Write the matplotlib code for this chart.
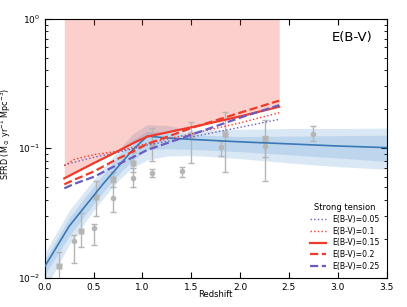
import numpy as np
import matplotlib
matplotlib.use("Agg")
from matplotlib import pyplot as plt

# model (blue) curve and its confidence bands
z_mod = [0.0, 0.25, 0.5, 0.6, 0.75, 0.9, 1.05, 1.25, 1.5, 2.0, 2.5, 3.0, 3.5]
sfrd_mod = [0.0122, 0.025, 0.043, 0.0533, 0.072, 0.097, 0.124, 0.120, 0.117, 0.112, 0.108, 0.104, 0.101]
dark_lo = [0.0105, 0.021, 0.037, 0.046, 0.062, 0.081, 0.097, 0.099, 0.098, 0.094, 0.089, 0.084, 0.079]
dark_hi = [0.0137, 0.029, 0.051, 0.063, 0.087, 0.116, 0.135, 0.132, 0.127, 0.123, 0.124, 0.125, 0.126]
light_lo = [0.008, 0.018, 0.033, 0.041, 0.056, 0.071, 0.081, 0.087, 0.088, 0.083, 0.077, 0.072, 0.0687]
light_hi = [0.0155, 0.033, 0.057, 0.070, 0.096, 0.129, 0.152, 0.150, 0.138, 0.140, 0.142, 0.142, 0.143]

# E(B-V) tension curves
z_ebv = [0.2, 0.3, 0.5, 0.75, 0.9, 1.05, 1.5, 2.0, 2.4]
ebv_005 = [0.074, 0.078, 0.085, 0.093, 0.099, 0.106, 0.122, 0.145, 0.167]
ebv_010 = [0.073, 0.082, 0.089, 0.095, 0.101, 0.109, 0.129, 0.157, 0.188]
ebv_015 = [0.0585, 0.064, 0.0765, 0.095, 0.109, 0.123, 0.145, 0.176, 0.209]
ebv_020 = [0.0526, 0.057, 0.066, 0.083, 0.094, 0.108, 0.143, 0.188, 0.233]
ebv_025 = [0.049, 0.053, 0.060, 0.075, 0.085, 0.097, 0.127, 0.172, 0.215]

# observed points
sq_z = [0.15, 0.375, 0.525, 0.70, 0.90, 1.10, 1.50, 1.85, 2.25]
sq_y = [0.0124, 0.0228, 0.0422, 0.0578, 0.0773, 0.105, 0.126, 0.129, 0.118]
sq_lo = [0.008, 0.0174, 0.030, 0.050, 0.065, 0.079, 0.0775, 0.065, 0.085]
sq_hi = [0.0157, 0.0314, 0.0558, 0.066, 0.093, 0.142, 0.158, 0.191, 0.165]

ci_z = [0.30, 0.50, 0.70, 0.90, 1.10, 1.40, 1.80, 2.25, 2.75]
ci_y = [0.0191, 0.0242, 0.041, 0.0585, 0.0647, 0.0665, 0.1016, 0.104, 0.128]
ci_lo = [0.0130, 0.0178, 0.032, 0.050, 0.060, 0.060, 0.087, 0.056, 0.113]
ci_hi = [0.0213, 0.0262, 0.055, 0.070, 0.069, 0.072, 0.113, 0.125, 0.149]

fig = plt.figure(figsize=(4.07, 3.07), dpi=100)
ax = fig.add_axes([0.11, 0.0955, 0.84, 0.8435])

blue = '#3a78b5'
red = '#ee3b2a'
purple = '#6a5cc0'

ax.fill_between(z_mod, light_lo, light_hi, color='#4a90d0', alpha=0.2, lw=0, zorder=1)
ax.fill_between(z_mod, dark_lo, dark_hi, color='#4a90d0', alpha=0.2, lw=0, zorder=1)

ax.fill_between(z_ebv, ebv_015, 1.0, color='#f04030', alpha=0.25, lw=0, zorder=2)

for z, y, lo, hi, m in [(sq_z, sq_y, sq_lo, sq_hi, 's'), (ci_z, ci_y, ci_lo, ci_hi, 'o')]:
    y = np.array(y)
    yerr = [y - np.array(lo), np.array(hi) - y]
    ax.errorbar(z, y, yerr=yerr, fmt=m, color='#b5b5b5', ms=4, mec='none',
                elinewidth=1, capsize=2, zorder=3)

ax.plot(z_mod, sfrd_mod, color=blue, lw=1.2, zorder=4)

ax.plot(z_ebv, ebv_005, ':', color=purple, lw=1.0, label='E(B-V)=0.05', zorder=5)
ax.plot(z_ebv, ebv_010, ':', color=red, lw=1.0, label='E(B-V)=0.1', zorder=5)
ax.plot(z_ebv, ebv_015, '-', color=red, lw=1.6, label='E(B-V)=0.15', zorder=5)
ax.plot(z_ebv, ebv_020, '--', color=red, lw=1.6, label='E(B-V)=0.2', zorder=5)
ax.plot(z_ebv, ebv_025, '--', color=purple, lw=1.6, label='E(B-V)=0.25', zorder=5)

ax.set_yscale('log')
ax.set_xlim(0, 3.5)
ax.set_ylim(0.01, 1.0)
ax.set_xticks(np.arange(0, 3.51, 0.5))
ax.tick_params(which='both', direction='in', top=True, right=True, labelsize=6.5)
ax.tick_params(which='major', length=4)
ax.tick_params(which='minor', length=2)
ax.set_xlabel('Redshift', fontsize=6)
ax.set_ylabel(r'SFRD (M$_\odot$ yr$^{-1}$ Mpc$^{-3}$)', fontsize=5.8)
ax.xaxis.set_label_coords(0.5, -0.047)
ax.yaxis.set_label_coords(-0.092, 0.557)

ax.text(0.96, 0.927, 'E(B-V)', transform=ax.transAxes, ha='right', va='center', fontsize=9.5)

leg = ax.legend(loc='lower right', frameon=False, fontsize=5.6, title='Strong tension',
                title_fontsize=6, handlelength=2.0, labelspacing=0.35,
                borderaxespad=0.5)

fig.savefig('out.png', dpi=100)
